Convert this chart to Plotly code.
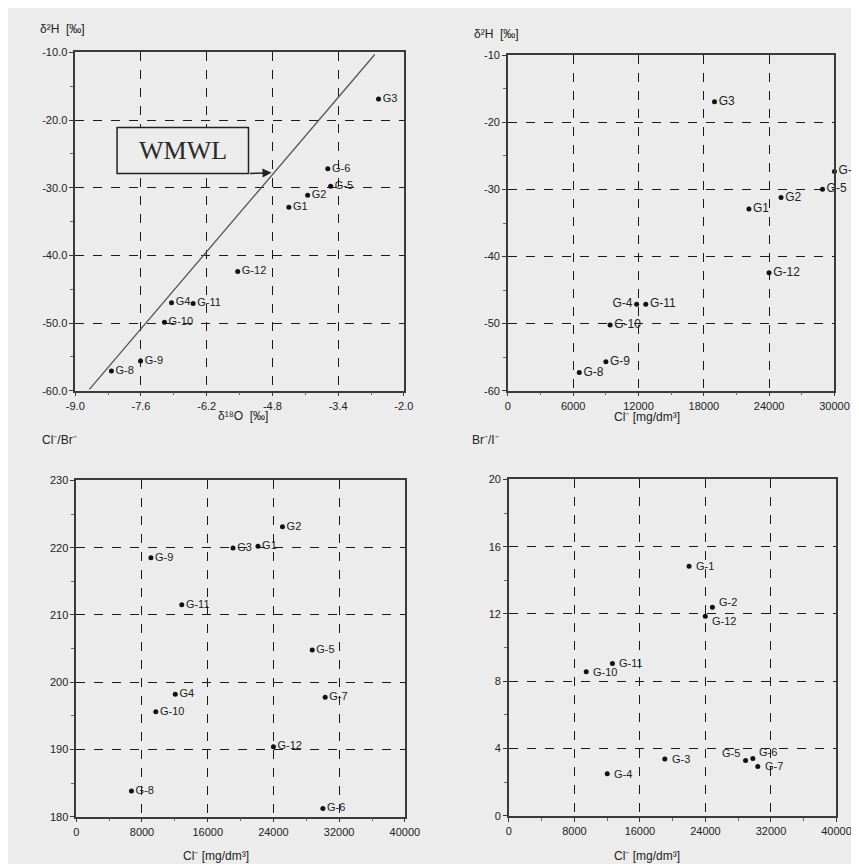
import plotly.graph_objects as go

# ---------------- data ----------------
# Panel 1: d18O vs d2H
p1_labels = ["G3", "G-6", "G-5", "G2", "G1", "G-12", "G4", "G-11", "G-10", "G-9", "G-8"]
p1_d18O = [-2.54, -3.62, -3.56, -4.05, -4.45, -5.54, -6.95, -6.49, -7.10, -7.61, -8.23]
p1_d2H = [-16.9, -27.2, -29.8, -31.1, -32.9, -42.4, -47.0, -47.1, -49.9, -55.6, -57.1]
wmwl_x = [-8.70, -2.62]
wmwl_y = [-59.8, -10.3]

# Panel 2: Cl vs d2H
p2_labels = ["G3", "G-6", "G-5", "G2", "G1", "G-12", "G-4", "G-11", "G-10", "G-9", "G-8"]
p2_cl = [18980, 30000, 28900, 25090, 22140, 23990, 11830, 12665, 9390, 9000, 6556]
p2_d2H = [-16.9, -27.3, -29.95, -31.2, -32.9, -42.4, -47.1, -47.1, -50.2, -55.7, -57.3]

# Panel 3: Cl vs Cl/Br
p3_labels = ["G2", "G3", "G1", "G-9", "G-11", "G-5", "G4", "G-7", "G-10", "G-12", "G-8", "G-6"]
p3_cl = [25100, 19080, 22120, 9085, 12840, 28720, 12050, 30300, 9680, 24000, 6715, 30020]
p3_ratio = [223.1, 219.95, 220.2, 218.5, 211.5, 204.8, 198.2, 197.75, 195.6, 190.4, 183.8, 181.2]

# Panel 4: Cl vs Br/I
p4_labels = ["G-1", "G-2", "G-12", "G-11", "G-10", "G-3", "G-4", "G-5", "G-6", "G-7"]
p4_cl = [22000, 24850, 23980, 12640, 9440, 19040, 12010, 28900, 29790, 30390]
p4_ratio = [14.84, 12.4, 11.87, 9.06, 8.57, 3.38, 2.49, 3.28, 3.4, 2.93]

# tick values / labels
p1_xticks = [-9.0, -7.6, -6.2, -4.8, -3.4, -2.0]
p1_xlabels = ["-9.0", "-7.6", "-6.2", "-4.8", "-3.4", "-2.0"]
p1_yticks = [-60, -50, -40, -30, -20, -10]
p1_ylabels = ["-60.0", "-50.0", "-40.0", "-30.0", "-20.0", "-10.0"]
p2_xticks = [0, 6000, 12000, 18000, 24000, 30000]
p2_yticks = [-60, -50, -40, -30, -20, -10]
p2_ylabels = ["-60", "-50", "-40", "-30", "-20", "-10"]
p34_xticks = [0, 8000, 16000, 24000, 32000, 40000]
p3_yticks = [180, 190, 200, 210, 220, 230]
p4_yticks = [0, 4, 8, 12, 16, 20]

# ---------------- label placement (style) ----------------
p1_pos = ["middle right"] * 11
p2_pos = ["middle right"] * 6 + ["middle left"] + ["middle right"] * 4
p3_pos = ["middle right"] * 12
# panel 4 label offsets in px (xshift, yshift)
p4_shift = [(5, 0), (5, 5), (5, -5), (5, 0), (5, 0), (5, 0), (5, 0), (-4, 8), (4, 7), (5, 0)]
p4_anchor = ["left"] * 7 + ["right", "left", "left"]

# ---------------- figure ----------------
BG = "#ececec"
FONT = "Liberation Sans, Arial, sans-serif"
TXT = "#222222"

fig = go.Figure()

def pts(x, y, labels, pos, xa, ya, fs=11):
    fig.add_trace(go.Scatter(
        x=x, y=y, text=labels, textposition=pos, mode="markers+text",
        marker=dict(color="#111111", size=5),
        textfont=dict(family=FONT, size=fs, color=TXT),
        cliponaxis=False, showlegend=False, xaxis=xa, yaxis=ya))

fig.add_trace(go.Scatter(x=wmwl_x, y=wmwl_y, mode="lines",
                         line=dict(color="#555555", width=1.3),
                         showlegend=False, xaxis="x", yaxis="y"))
pts(p1_d18O, p1_d2H, p1_labels, p1_pos, "x", "y")
pts(p2_cl, p2_d2H, p2_labels, p2_pos, "x2", "y2", 12)
pts(p3_cl, p3_ratio, p3_labels, p3_pos, "x3", "y3")
fig.add_trace(go.Scatter(x=p4_cl, y=p4_ratio, mode="markers",
                         marker=dict(color="#111111", size=5),
                         cliponaxis=False, showlegend=False, xaxis="x4", yaxis="y4"))
for xv, yv, t, (dx, dy), anc in zip(p4_cl, p4_ratio, p4_labels, p4_shift, p4_anchor):
    fig.add_annotation(xref="x4", yref="y4", x=xv, y=yv, text=t, showarrow=False,
                       xanchor=anc, yanchor="middle", xshift=dx, yshift=dy,
                       font=dict(family=FONT, size=11, color=TXT))

def ax(domain, rng, tickvals, ticktext, mdtick, anchor):
    return dict(
        domain=domain, range=rng, tickmode="array", tickvals=tickvals,
        ticktext=ticktext if ticktext is not None else [str(v) for v in tickvals],
        showline=True, linecolor="#3a3a3a", linewidth=1.6,
        mirror=True, ticks="outside", ticklen=4, tickcolor="#3a3a3a",
        showgrid=True, gridcolor="#1a1a1a", griddash="dash", gridwidth=1.2,
        zeroline=False, anchor=anchor,
        tickfont=dict(family=FONT, size=11, color=TXT),
        minor=dict(ticks="outside", ticklen=3, dtick=mdtick, tick0=tickvals[0],
                   tickcolor="#666666", showgrid=False),
    )

fig.update_layout(
    width=859, height=864,
    margin=dict(l=0, r=0, t=0, b=0),
    paper_bgcolor=BG, plot_bgcolor=BG,
    xaxis=ax([0.0698, 0.4633], [-9, -2], p1_xticks, p1_xlabels, 0.7, "y"),
    yaxis=ax([0.5579, 0.9549], [-60, -10], p1_yticks, p1_ylabels, 5, "x"),
    xaxis2=ax([0.5879, 0.9790], [0, 30000], p2_xticks, None, 3000, "y2"),
    yaxis2=ax([0.5579, 0.9514], [-60, -10], p2_yticks, p2_ylabels, 5, "x2"),
    xaxis3=ax([0.0710, 0.4645], [0, 40000], p34_xticks, None, 4000, "y3"),
    yaxis3=ax([0.0579, 0.4525], [180, 230], p3_yticks, None, 5, "x3"),
    xaxis4=ax([0.5891, 0.9814], [0, 40000], p34_xticks, None, 4000, "y4"),
    yaxis4=ax([0.0590, 0.4537], [0, 20], p4_yticks, None, 2, "x4"),
)

# WMWL box + arrow
fig.add_shape(type="rect", xref="x", yref="y", x0=-8.11, x1=-5.31, y0=-27.9, y1=-21.1,
              line=dict(color="#222222", width=1.5), fillcolor=BG, layer="above")
fig.add_annotation(xref="x", yref="y", x=-6.71, y=-24.5, text="WMWL", showarrow=False,
                   font=dict(family="Liberation Serif, Times New Roman, serif", size=26,
                             color="#2a2a2a"))
fig.add_annotation(xref="x", yref="y", x=-4.82, y=-27.8, ax=-5.31, ay=-27.9,
                   axref="x", ayref="y", text="", showarrow=True, arrowhead=2,
                   arrowsize=1.2, arrowwidth=1.5, arrowcolor="#222222")

def lab(x, y, text, xanchor="left"):
    fig.add_annotation(xref="paper", yref="paper", x=x / 859, y=1 - y / 864, text=text,
                       showarrow=False, xanchor=xanchor, yanchor="middle",
                       font=dict(family=FONT, size=12, color=TXT))

lab(22, 15, "δ²H  [‰]")
lab(232, 408, "δ¹⁸O  [‰]", "center")
lab(468, 20, "δ²H  [‰]")
lab(648, 409, "Cl⁻ [mg/dm³]", "center")
lab(24, 432, "Cl⁻/Br⁻")
lab(205, 854, "Cl⁻ [mg/dm³]", "center")
lab(466, 432, "Br⁻/I⁻")
lab(648, 854, "Cl⁻ [mg/dm³]", "center")

fig.write_html("out.html")
